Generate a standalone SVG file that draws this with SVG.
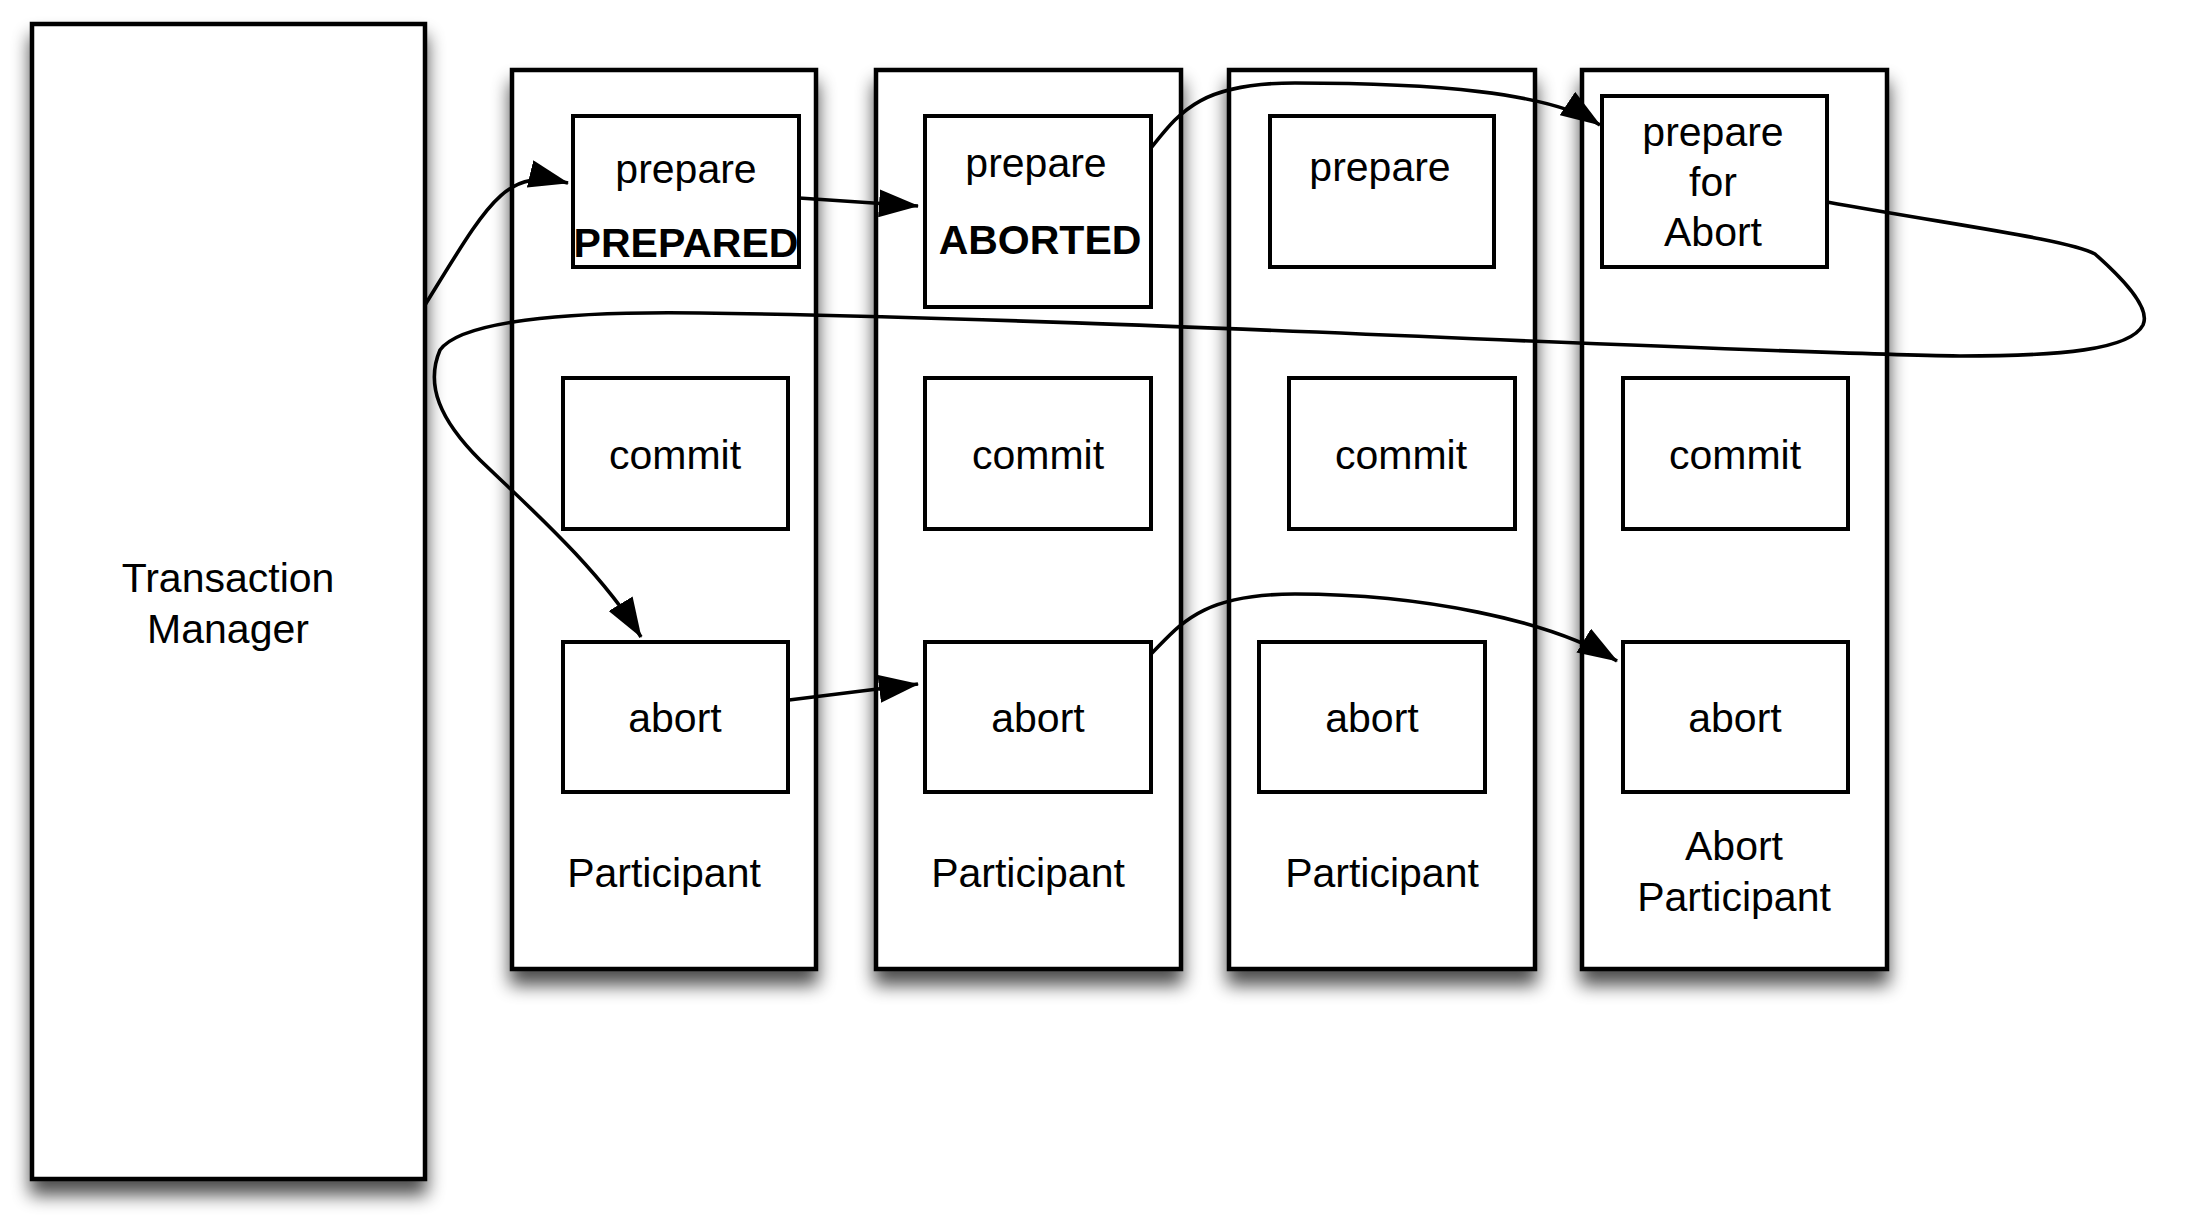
<svg xmlns="http://www.w3.org/2000/svg" width="2193" height="1215" viewBox="0 0 2193 1215">
<defs>
<filter id="sh" x="-15%" y="-10%" width="130%" height="125%">
<feGaussianBlur in="SourceAlpha" stdDeviation="9"/>
<feOffset dx="0" dy="14" result="b"/>
<feComponentTransfer><feFuncA type="linear" slope="0.7"/></feComponentTransfer>
<feMerge><feMergeNode/><feMergeNode in="SourceGraphic"/></feMerge>
</filter>
<marker id="ah" markerUnits="userSpaceOnUse" markerWidth="40" markerHeight="28" refX="39" refY="14" orient="auto" viewBox="0 0 40 28">
<path d="M0,0 L40,14 L0,28 z" fill="#000"/>
</marker>
<style>
.col{fill:#fff;stroke:#000;stroke-width:4.5}
.box{fill:#fff;stroke:#000;stroke-width:4}
text{font-family:"Liberation Sans",Arial,Helvetica,sans-serif;font-size:41px;fill:#000;text-anchor:middle}
.b{font-weight:bold}
.con{fill:none;stroke:#000;stroke-width:3.6}
</style>
</defs>
<rect width="2193" height="1215" fill="#fff"/>

<g id="tm">
<rect class="col" x="32" y="24" width="393" height="1155" filter="url(#sh)"/>
<text x="228" y="592">Transaction</text>
<text x="228" y="643">Manager</text>
</g>

<g id="p1">
<rect class="col" x="512" y="70" width="304" height="899" filter="url(#sh)"/>
<text x="664" y="887">Participant</text>
</g>
<g id="p2">
<rect class="col" x="876" y="70" width="305" height="899" filter="url(#sh)"/>
<text x="1028" y="887">Participant</text>
</g>
<g id="p3">
<rect class="col" x="1229" y="70" width="306" height="899" filter="url(#sh)"/>
<text x="1382" y="887">Participant</text>
</g>
<g id="p4">
<rect class="col" x="1582" y="70" width="305" height="899" filter="url(#sh)"/>
<text x="1734" y="860">Abort</text>
<text x="1734" y="911">Participant</text>
</g>

<g id="p1-prepare">
<rect class="box" x="573" y="116" width="226" height="151"/>
<text x="686" y="183">prepare</text>
<text class="b" x="686" y="257">PREPARED</text>
</g>
<g id="p2-prepare">
<rect class="box" x="925" y="116" width="226" height="191"/>
<text x="1036" y="177">prepare</text>
<text class="b" x="1040" y="254">ABORTED</text>
</g>
<g id="p3-prepare">
<rect class="box" x="1270" y="116" width="224" height="151"/>
<text x="1380" y="181">prepare</text>
</g>
<g id="p4-prepare">
<rect class="box" x="1602" y="96" width="225" height="171"/>
<text x="1713" y="146">prepare</text>
<text x="1713" y="196">for</text>
<text x="1713" y="246">Abort</text>
</g>

<g id="p1-commit"><rect class="box" x="563" y="378" width="225" height="151"/><text x="675" y="469">commit</text></g>
<g id="p2-commit"><rect class="box" x="925" y="378" width="226" height="151"/><text x="1038" y="469">commit</text></g>
<g id="p3-commit"><rect class="box" x="1289" y="378" width="226" height="151"/><text x="1401" y="469">commit</text></g>
<g id="p4-commit"><rect class="box" x="1623" y="378" width="225" height="151"/><text x="1735" y="469">commit</text></g>

<g id="p1-abort"><rect class="box" x="563" y="642" width="225" height="150"/><text x="675" y="732">abort</text></g>
<g id="p2-abort"><rect class="box" x="925" y="642" width="226" height="150"/><text x="1038" y="732">abort</text></g>
<g id="p3-abort"><rect class="box" x="1259" y="642" width="226" height="150"/><text x="1372" y="732">abort</text></g>
<g id="p4-abort"><rect class="box" x="1623" y="642" width="225" height="150"/><text x="1735" y="732">abort</text></g>

<g id="connectors">
<path class="con" marker-end="url(#ah)" d="M425,305 C490,200 505,168 568,183"/>
<path class="con" marker-end="url(#ah)" d="M799,198 L918,206"/>
<path class="con" marker-end="url(#ah)" d="M1151,148 C1180,112 1200,83 1295,83 C1430,83 1550,92 1600,125"/>
<path class="con" marker-end="url(#ah)" d="M1827,202 C1960,226 2070,240 2095,254 C2130,285 2150,310 2143,325 C2130,350 2060,356 1960,356 C1700,352 1100,318 700,313 C560,311 460,322 440,350 C425,385 440,420 480,460 C530,508 600,570 641,637"/>
<path class="con" marker-end="url(#ah)" d="M789,700 L918,684"/>
<path class="con" marker-end="url(#ah)" d="M1151,654 C1180,625 1200,594 1295,594 C1420,594 1550,620 1617,661"/>
</g>
</svg>
